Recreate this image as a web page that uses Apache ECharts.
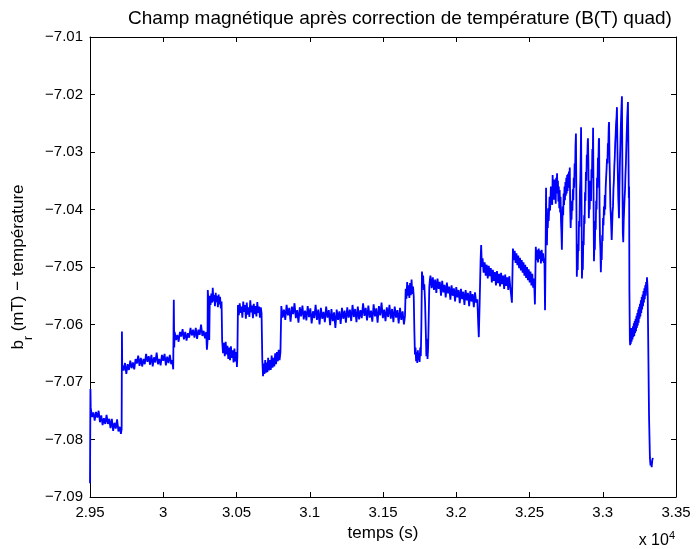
<!DOCTYPE html>
<html>
<head>
<meta charset="utf-8">
<script src="https://cdn.jsdelivr.net/npm/echarts@6/dist/echarts.min.js"></script>
<style>
html,body{margin:0;padding:0;background:#fff;}
#chart{width:696px;height:549px;}
</style>
</head>
<body>
<div id="chart"></div>
<script>
// time (s), b_r (mT) pairs
const segA = [[29500,-7.0876],[29503,-7.0712],[29505,-7.0745],[29514,-7.0761],[29523,-7.0753],[29532,-7.0767],[29541,-7.0752],[29550,-7.0762],[29559,-7.0750],[29568,-7.0770],[29577,-7.0758],[29586,-7.0775],[29595,-7.0763],[29604,-7.0773],[29613,-7.0757],[29622,-7.0773],[29631,-7.0764],[29640,-7.0780],[29649,-7.0764],[29658,-7.0785],[29667,-7.0771],[29676,-7.0781],[29685,-7.0765],[29694,-7.0786],[29703,-7.0778],[29711,-7.0790],[29716,-7.0782]];
const segB = [[29718,-7.0612],[29720,-7.0675],[29722,-7.0671],[29730,-7.0680],[29739,-7.0667],[29748,-7.0686],[29757,-7.0669],[29766,-7.0679],[29775,-7.0663],[29784,-7.0676],[29793,-7.0666],[29802,-7.0678],[29811,-7.0660],[29820,-7.0668],[29829,-7.0654],[29838,-7.0672],[29847,-7.0658],[29856,-7.0673],[29865,-7.0660],[29874,-7.0669],[29883,-7.0651],[29892,-7.0665],[29901,-7.0655],[29910,-7.0670],[29919,-7.0653],[29928,-7.0673],[29937,-7.0657],[29946,-7.0666],[29955,-7.0649],[29964,-7.0669],[29973,-7.0660],[29982,-7.0671],[29991,-7.0653],[30000,-7.0663],[30009,-7.0651],[30018,-7.0671],[30027,-7.0656],[30036,-7.0667],[30045,-7.0653],[30054,-7.0669],[30062,-7.0662],[30068,-7.0678]];
const segC = [[30072,-7.0557],[30075,-7.0640],[30078,-7.0613],[30087,-7.0627],[30096,-7.0618],[30105,-7.0630],[30114,-7.0613],[30123,-7.0621],[30132,-7.0608],[30141,-7.0626],[30150,-7.0613],[30159,-7.0628],[30168,-7.0615],[30177,-7.0623],[30186,-7.0606],[30195,-7.0619],[30204,-7.0609],[30213,-7.0623],[30222,-7.0606],[30231,-7.0625],[30240,-7.0609],[30249,-7.0618],[30258,-7.0600],[30267,-7.0620],[30276,-7.0611],[30285,-7.0624],[30293,-7.0613],[30298,-7.0644],[30302,-7.0630]];
const segD = [[30304,-7.0540],[30309,-7.0563],[30314,-7.0627],[30318,-7.0550],[30323,-7.0566],[30328,-7.0546],[30333,-7.0562],[30338,-7.0536],[30343,-7.0560],[30348,-7.0549],[30353,-7.0568],[30358,-7.0545],[30363,-7.0561],[30368,-7.0550],[30373,-7.0570],[30378,-7.0548],[30383,-7.0565],[30388,-7.0552],[30393,-7.0572],[30398,-7.0560]];
const segE = [[30402,-7.0628],[30408,-7.0650],[30414,-7.0632],[30420,-7.0655],[30426,-7.0630],[30432,-7.0652],[30438,-7.0637],[30444,-7.0660],[30450,-7.0640],[30456,-7.0662],[30462,-7.0638],[30468,-7.0658],[30474,-7.0645],[30480,-7.0666],[30486,-7.0642],[30492,-7.0664],[30498,-7.0648],[30503,-7.0674],[30506,-7.0655]];
const segF = [[30510,-7.0566],[30516,-7.0584],[30522,-7.0563],[30528,-7.0580],[30534,-7.0569],[30540,-7.0588],[30546,-7.0560],[30552,-7.0578],[30558,-7.0566],[30564,-7.0590],[30570,-7.0562],[30576,-7.0583],[30582,-7.0570],[30588,-7.0587],[30594,-7.0558],[30600,-7.0579],[30606,-7.0567],[30612,-7.0589],[30618,-7.0564],[30624,-7.0582],[30630,-7.0568],[30636,-7.0586],[30642,-7.0561],[30648,-7.0580],[30654,-7.0569],[30660,-7.0588],[30666,-7.0570],[30671,-7.0580]];
const segG = [[30676,-7.0660],[30681,-7.0690],[30686,-7.0668],[30691,-7.0686],[30696,-7.0662],[30701,-7.0684],[30706,-7.0666],[30711,-7.0683],[30716,-7.0658],[30722,-7.0680],[30728,-7.0662],[30734,-7.0679],[30740,-7.0654],[30746,-7.0675],[30752,-7.0658],[30758,-7.0673],[30764,-7.0650],[30770,-7.0669],[30776,-7.0648],[30782,-7.0664],[30788,-7.0644],[30794,-7.0662],[30800,-7.0648]];
const segH = [[30806,-7.0568],[30815,-7.0588],[30824,-7.0574],[30833,-7.0592],[30842,-7.0566],[30851,-7.0584],[30860,-7.0571],[30869,-7.0595],[30878,-7.0569],[30887,-7.0582],[30896,-7.0563],[30905,-7.0589],[30914,-7.0575],[30923,-7.0597],[30932,-7.0570],[30941,-7.0586],[30950,-7.0567],[30959,-7.0591],[30968,-7.0576],[30977,-7.0593],[30986,-7.0568],[30995,-7.0587],[31004,-7.0572],[31013,-7.0598],[31022,-7.0577],[31031,-7.0589],[31040,-7.0566],[31049,-7.0592],[31058,-7.0574],[31067,-7.0600],[31076,-7.0571],[31085,-7.0590],[31094,-7.0578],[31103,-7.0596],[31112,-7.0569],[31121,-7.0588],[31130,-7.0575],[31139,-7.0601],[31148,-7.0573],[31157,-7.0594],[31166,-7.0579],[31175,-7.0606],[31184,-7.0574],[31193,-7.0592],[31202,-7.0577],[31211,-7.0599],[31220,-7.0571],[31229,-7.0590],[31238,-7.0576],[31247,-7.0597],[31256,-7.0570],[31265,-7.0588],[31274,-7.0574],[31283,-7.0594],[31292,-7.0566],[31301,-7.0587],[31310,-7.0573],[31319,-7.0596],[31328,-7.0569],[31337,-7.0591],[31346,-7.0575],[31355,-7.0589],[31364,-7.0563],[31373,-7.0585],[31382,-7.0571],[31391,-7.0593],[31400,-7.0567],[31409,-7.0588],[31418,-7.0576],[31427,-7.0595],[31436,-7.0565],[31445,-7.0586],[31454,-7.0572],[31463,-7.0597],[31472,-7.0568],[31481,-7.0584],[31490,-7.0562],[31499,-7.0589],[31508,-7.0574],[31517,-7.0594],[31526,-7.0570],[31535,-7.0587],[31544,-7.0566],[31553,-7.0590],[31562,-7.0573],[31571,-7.0596],[31580,-7.0569],[31589,-7.0588],[31598,-7.0575],[31607,-7.0598],[31616,-7.0571],[31625,-7.0592],[31634,-7.0577],[31643,-7.0600],[31650,-7.0585]];
const segI = [[31655,-7.0538],[31660,-7.0555],[31665,-7.0526],[31670,-7.0550],[31675,-7.0532],[31680,-7.0554],[31685,-7.0528],[31690,-7.0549],[31695,-7.0522],[31700,-7.0547],[31705,-7.0534],[31710,-7.0552]];
const segJ = [[31714,-7.0610],[31718,-7.0652],[31722,-7.0640],[31726,-7.0664],[31730,-7.0648],[31734,-7.0667],[31738,-7.0645],[31742,-7.0662],[31746,-7.0650],[31750,-7.0665],[31754,-7.0640],[31758,-7.0655],[31762,-7.0600],[31766,-7.0508],[31770,-7.0522],[31774,-7.0515],[31778,-7.0540],[31782,-7.0530],[31787,-7.0560],[31792,-7.0610],[31796,-7.0655],[31800,-7.0625],[31804,-7.0660],[31808,-7.0640],[31812,-7.0590],[31816,-7.0535],[31820,-7.0522]];
const segK = [[31824,-7.0515],[31832,-7.0537],[31840,-7.0518],[31848,-7.0540],[31856,-7.0522],[31864,-7.0545],[31872,-7.0520],[31880,-7.0538],[31888,-7.0526],[31896,-7.0550],[31904,-7.0524],[31912,-7.0544],[31920,-7.0531],[31928,-7.0553],[31936,-7.0527],[31944,-7.0546],[31952,-7.0534],[31960,-7.0557],[31968,-7.0532],[31976,-7.0550],[31984,-7.0537],[31992,-7.0560],[32000,-7.0535],[32008,-7.0553],[32016,-7.0540],[32024,-7.0563],[32032,-7.0538],[32040,-7.0556],[32048,-7.0543],[32056,-7.0566],[32064,-7.0540],[32072,-7.0558],[32080,-7.0545],[32088,-7.0568],[32096,-7.0542],[32104,-7.0560],[32112,-7.0547],[32120,-7.0570],[32128,-7.0544],[32136,-7.0562],[32144,-7.0556],[32150,-7.0600],[32154,-7.0622],[32160,-7.0560],[32166,-7.0490],[32170,-7.0462],[32175,-7.0500]];
const segL = [[32180,-7.0485],[32187,-7.0510],[32194,-7.0492],[32201,-7.0515],[32208,-7.0496],[32215,-7.0520],[32222,-7.0498],[32229,-7.0516],[32236,-7.0502],[32243,-7.0527],[32250,-7.0505],[32257,-7.0524],[32264,-7.0509],[32271,-7.0532],[32278,-7.0507],[32285,-7.0528],[32292,-7.0512],[32299,-7.0534],[32306,-7.0510],[32313,-7.0530],[32320,-7.0515],[32327,-7.0538],[32334,-7.0513],[32341,-7.0533],[32348,-7.0518],[32355,-7.0540],[32362,-7.0516],[32369,-7.0536],[32375,-7.0550],[32380,-7.0562]];
const segM = [[32387,-7.0468],[32393,-7.0488],[32399,-7.0472],[32405,-7.0493],[32411,-7.0476],[32417,-7.0497],[32423,-7.0480],[32429,-7.0502],[32435,-7.0484],[32441,-7.0506],[32447,-7.0488],[32453,-7.0510],[32459,-7.0492],[32465,-7.0515],[32471,-7.0496],[32477,-7.0519],[32483,-7.0500],[32489,-7.0523],[32495,-7.0504],[32501,-7.0527],[32507,-7.0508],[32513,-7.0532],[32519,-7.0512],[32525,-7.0536],[32531,-7.0520],[32537,-7.0565]];
const segN = [[32543,-7.0465],[32548,-7.0488],[32553,-7.0470],[32558,-7.0492],[32563,-7.0468],[32568,-7.0486],[32573,-7.0472],[32578,-7.0494],[32583,-7.0470],[32588,-7.0490],[32593,-7.0476],[32598,-7.0493],[32602,-7.0485],[32606,-7.0575]];
const segO = [[32610,-7.0470],[32613,-7.0362],[32616,-7.0440],[32619,-7.0462],[32622,-7.0418],[32625,-7.0432],[32628,-7.0398],[32631,-7.0420],[32634,-7.0400],[32637,-7.0378],[32640,-7.0402],[32643,-7.0385],[32646,-7.0360],[32649,-7.0388],[32652,-7.0366],[32655,-7.0392],[32658,-7.0340],[32661,-7.0375],[32664,-7.0352],[32667,-7.0383],[32670,-7.0348],[32673,-7.0380],[32676,-7.0356],[32679,-7.0390],[32682,-7.0345],[32685,-7.0372],[32688,-7.0337],[32691,-7.0368],[32694,-7.0350],[32697,-7.0386],[32700,-7.0360],[32703,-7.0398],[32706,-7.0366],[32709,-7.0405],[32712,-7.0378],[32715,-7.0420],[32718,-7.0440],[32721,-7.0470],[32724,-7.0425],[32727,-7.0395],[32730,-7.0410],[32733,-7.0372],[32736,-7.0392],[32739,-7.0360],[32742,-7.0384],[32745,-7.0352],[32748,-7.0376],[32751,-7.0345],[32754,-7.0372],[32757,-7.0340],[32760,-7.0368],[32763,-7.0338],[32766,-7.0362],[32769,-7.0334],[32772,-7.0355],[32775,-7.0327],[32778,-7.0400],[32781,-7.0432],[32784,-7.0405],[32787,-7.0418],[32790,-7.0385],[32793,-7.0402],[32796,-7.0365],[32799,-7.0384],[32802,-7.0345],[32805,-7.0362],[32808,-7.0320],[32811,-7.0338],[32814,-7.0290],[32817,-7.0268],[32820,-7.0380],[32823,-7.0517],[32826,-7.0490],[32829,-7.0505],[32832,-7.0460],[32835,-7.0472],[32838,-7.0420],[32841,-7.0430],[32844,-7.0370],[32847,-7.0350],[32850,-7.0300],[32852,-7.0257],[32855,-7.0380],[32858,-7.0520],[32861,-7.0495],[32864,-7.0505],[32867,-7.0455],[32870,-7.0462],[32873,-7.0410],[32876,-7.0425],[32879,-7.0370],[32882,-7.0385],[32885,-7.0335],[32888,-7.0350],[32891,-7.0305],[32894,-7.0318],[32897,-7.0285],[32899,-7.0276],[32902,-7.0320],[32905,-7.0415],[32908,-7.0385],[32911,-7.0400],[32914,-7.0350],[32917,-7.0370],[32920,-7.0385],[32923,-7.0330],[32926,-7.0345],[32929,-7.0295],[32932,-7.0310],[32934,-7.0258],[32937,-7.0370],[32940,-7.0490],[32943,-7.0460],[32946,-7.0470],[32949,-7.0420],[32952,-7.0435],[32955,-7.0385],[32958,-7.0400],[32961,-7.0345],[32964,-7.0362],[32967,-7.0310],[32970,-7.0322],[32973,-7.0280],[32975,-7.0276],[32978,-7.0390],[32981,-7.0450],[32984,-7.0470],[32987,-7.0509],[32990,-7.0480],[32993,-7.0488],[32996,-7.0445],[32999,-7.0455],[33002,-7.0415],[33005,-7.0428],[33008,-7.0395],[33011,-7.0410],[33014,-7.0375],[33017,-7.0400],[33020,-7.0362],[33023,-7.0345],[33026,-7.0330],[33029,-7.0312],[33032,-7.0320],[33035,-7.0285],[33038,-7.0290],[33041,-7.0255],[33043,-7.0248],[33046,-7.0310],[33049,-7.0350],[33052,-7.0395],[33055,-7.0410],[33058,-7.0430],[33061,-7.0453],[33064,-7.0430],[33067,-7.0405],[33070,-7.0395],[33073,-7.0365],[33076,-7.0350],[33079,-7.0325],[33082,-7.0310],[33085,-7.0285],[33088,-7.0270],[33091,-7.0250],[33094,-7.0240],[33097,-7.0222],[33100,-7.0290],[33103,-7.0340],[33106,-7.0380],[33109,-7.0400],[33111,-7.0415],[33114,-7.0360],[33117,-7.0320],[33120,-7.0290],[33123,-7.0260],[33126,-7.0235],[33129,-7.0215],[33131,-7.0203],[33134,-7.0330],[33137,-7.0440],[33140,-7.0457],[33143,-7.0420],[33146,-7.0400],[33149,-7.0380],[33152,-7.0366],[33155,-7.0340],[33158,-7.0320],[33161,-7.0290],[33164,-7.0265],[33167,-7.0240],[33170,-7.0225],[33172,-7.0213],[33175,-7.0290],[33178,-7.0380],[33180,-7.0360],[33182,-7.0540],[33185,-7.0627],[33187,-7.0636]];
const segP = [[33188,-7.0606],[33191,-7.0634],[33194,-7.0612],[33197,-7.0630],[33200,-7.0606],[33203,-7.0626],[33206,-7.0603],[33209,-7.0622],[33212,-7.0598],[33215,-7.0620],[33218,-7.0594],[33221,-7.0615],[33224,-7.0590],[33227,-7.0612],[33230,-7.0585],[33233,-7.0606],[33236,-7.0580],[33239,-7.0602],[33242,-7.0574],[33245,-7.0597],[33248,-7.0569],[33251,-7.0590],[33254,-7.0564],[33257,-7.0586],[33260,-7.0558],[33263,-7.0580],[33266,-7.0552],[33269,-7.0574],[33272,-7.0548],[33275,-7.0568],[33278,-7.0542],[33281,-7.0562],[33284,-7.0537],[33287,-7.0556],[33290,-7.0532],[33293,-7.0550],[33296,-7.0526],[33299,-7.0540],[33302,-7.0518],[33305,-7.0532],[33307,-7.0548]];
const segQ = [[33309,-7.0598],[33316,-7.0760],[33322,-7.0832],[33326,-7.0845],[33330,-7.0838],[33334,-7.0848],[33338,-7.0836],[33342,-7.0832]];

const xTicks = {min: 29500, max: 33500, step: 500};
const yTicks = {min: -7.09, max: -7.01, step: 0.01};

const series = [].concat(segA, segB, segC, segD, segE, segF, segG, segH, segI, segJ, segK, segL, segM, segN, segO, segP, segQ);

const FONT = 'Liberation Sans, Arial, Helvetica, sans-serif';
const TICK_FS = 15;
const NAME_FS = 17;
const TITLE_FS = 19;
const chart = echarts.init(document.getElementById('chart'), null, {renderer: 'canvas'});

const xFmt = v => String(+(v / 1e4).toFixed(2));
const yFmt = v => v.toFixed(2).replace('-', '\u2212');

const axisCommon = {
  axisLine: {show: true, onZero: false, lineStyle: {color: '#000', width: 1}},
  axisTick: {show: true, inside: true, length: 5, lineStyle: {color: '#000', width: 1}},
  splitLine: {show: false},
};

chart.setOption({
  animation: false,
  backgroundColor: '#fff',
  title: {
    text: 'Champ magnétique après correction de température (B(T) quad)',
    left: 395, top: 4, textAlign: 'center',
    textStyle: {fontFamily: FONT, fontSize: TITLE_FS, fontWeight: 'normal', color: '#000'}
  },
  grid: {left: 90, right: 20, top: 37, bottom: 52, containLabel: false},
  xAxis: [
    Object.assign({}, axisCommon, {
      type: 'value', position: 'bottom', min: xTicks.min, max: xTicks.max, interval: xTicks.step,
      axisLabel: {formatter: xFmt, color: '#000', fontFamily: FONT, fontSize: TICK_FS, margin: 8},
      name: 'temps (s)', nameLocation: 'middle', nameGap: 27,
      nameTextStyle: {color: '#000', fontFamily: FONT, fontSize: NAME_FS}
    }),
    Object.assign({}, axisCommon, {
      type: 'value', position: 'top', min: xTicks.min, max: xTicks.max, interval: xTicks.step,
      axisLabel: {show: false}
    })
  ],
  yAxis: [
    Object.assign({}, axisCommon, {
      type: 'value', position: 'left', min: yTicks.min, max: yTicks.max, interval: yTicks.step,
      axisLabel: {formatter: yFmt, color: '#000', fontFamily: FONT, fontSize: TICK_FS, margin: 7}
    }),
    Object.assign({}, axisCommon, {
      type: 'value', position: 'right', min: yTicks.min, max: yTicks.max, interval: yTicks.step,
      axisLabel: {show: false}
    })
  ],
  graphic: [{
    type: 'text', x: 18, y: 267, rotation: Math.PI / 2,
    style: {
      text: 'b{sub|r} (mT) \u2212 température',
      align: 'center', verticalAlign: 'middle',
      font: NAME_FS + 'px ' + FONT, fill: '#000',
      rich: {sub: {fontSize: 12, fontFamily: FONT, fill: '#000', verticalAlign: 'bottom', padding: [0, 0, -8, 0]}}
    }
  }, {
    type: 'text', right: 21, top: 530,
    style: {
      text: 'x 10{sup|4}',
      font: '16px ' + FONT, fill: '#000',
      rich: {sup: {fontSize: 11, fontFamily: FONT, fill: '#000', padding: [0, 0, 11, 0]}}
    }
  }],
  series: [{
    type: 'line', xAxisIndex: 0, yAxisIndex: 0,
    data: series, showSymbol: false, symbol: 'none', smooth: false,
    lineStyle: {color: '#0000ff', width: 1.8}, silent: true, clip: true
  }]
});
</script>
</body>
</html>
